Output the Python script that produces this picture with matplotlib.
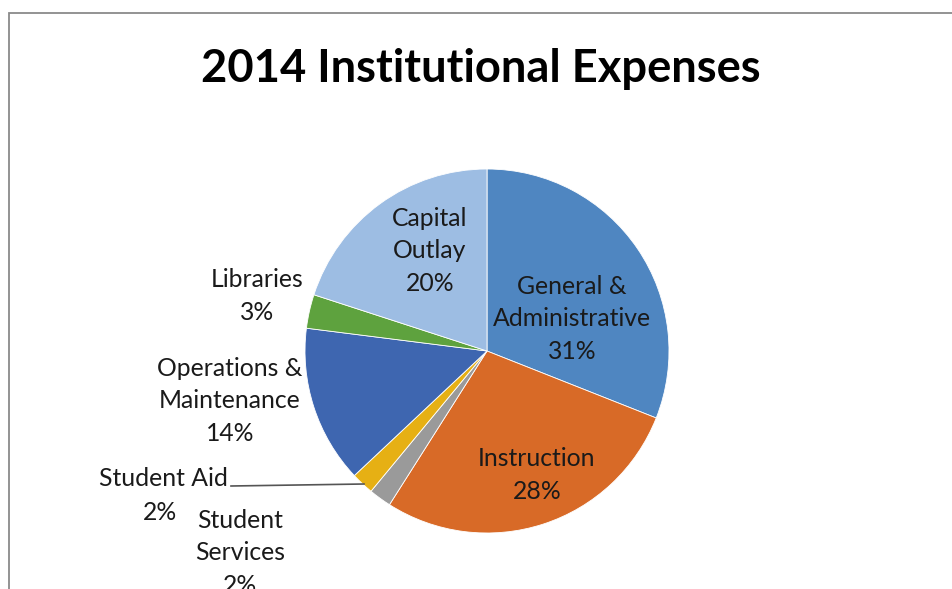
import matplotlib
matplotlib.use("Agg")
import matplotlib.pyplot as plt
from matplotlib.patches import Rectangle

# expense shares, clockwise from 12 o'clock
categories = ["General &\nAdministrative", "Instruction", "Student\nServices",
              "Student Aid", "Operations &\nMaintenance", "Libraries",
              "Capital\nOutlay"]
shares = [31, 28, 2, 2, 14, 3, 20]
colors = ["#4F86C1", "#D86A27", "#9A9A9A", "#E6B014", "#3E66B0", "#5EA23E", "#9DBDE3"]

# label anchor points, pixels from the top-left corner
label_pos = [(572, 319), (537, 475), (240, 553), (163, 496), (230, 401), (257, 296), (430, 251)]

plt.rcParams["font.family"] = ["Lato", "DejaVu Sans"]

W, H = 952, 589
fig = plt.figure(figsize=(W / 100, H / 100), dpi=100)
ax = fig.add_axes([0, 0, 1, 1])

ax.pie(shares, colors=colors, startangle=90, counterclock=False,
       center=(487, H - 351), radius=182,
       wedgeprops=dict(edgecolor="white", linewidth=0.6))

# pie() resets the limits, so set the pixel frame afterwards
ax.set_xlim(0, W)
ax.set_ylim(0, H)
ax.set_aspect("equal")
ax.axis("off")

# chart frame, runs off the right and bottom edges
ax.add_patch(Rectangle((9, -20), W + 20, H - 13 + 20, fill=False,
                       edgecolor="#8A8A8A", linewidth=1.3))

fs = 17.8
for name, v, (x, y) in zip(categories, shares, label_pos):
    if name == "Student Aid":
        ax.text(x, H - y + 17, name, ha="center", va="center", fontsize=fs, color="#1A1A1A")
        ax.text(x - 3, H - y - 17, f"{v}%", ha="center", va="center", fontsize=fs, color="#1A1A1A")
    else:
        ax.text(x, H - y, f"{name}\n{v}%", ha="center", va="center", fontsize=fs,
                color="#1A1A1A", linespacing=1.52)

# leader line for the thin Student Aid slice
ax.plot([231, 364], [H - 486, H - 484], color="#555555", linewidth=1.2)

ax.text(481, H - 69, "2014 Institutional Expenses", ha="center", va="center",
        fontsize=32.6, fontweight="bold", color="black")

fig.savefig("out.png", dpi=100)
